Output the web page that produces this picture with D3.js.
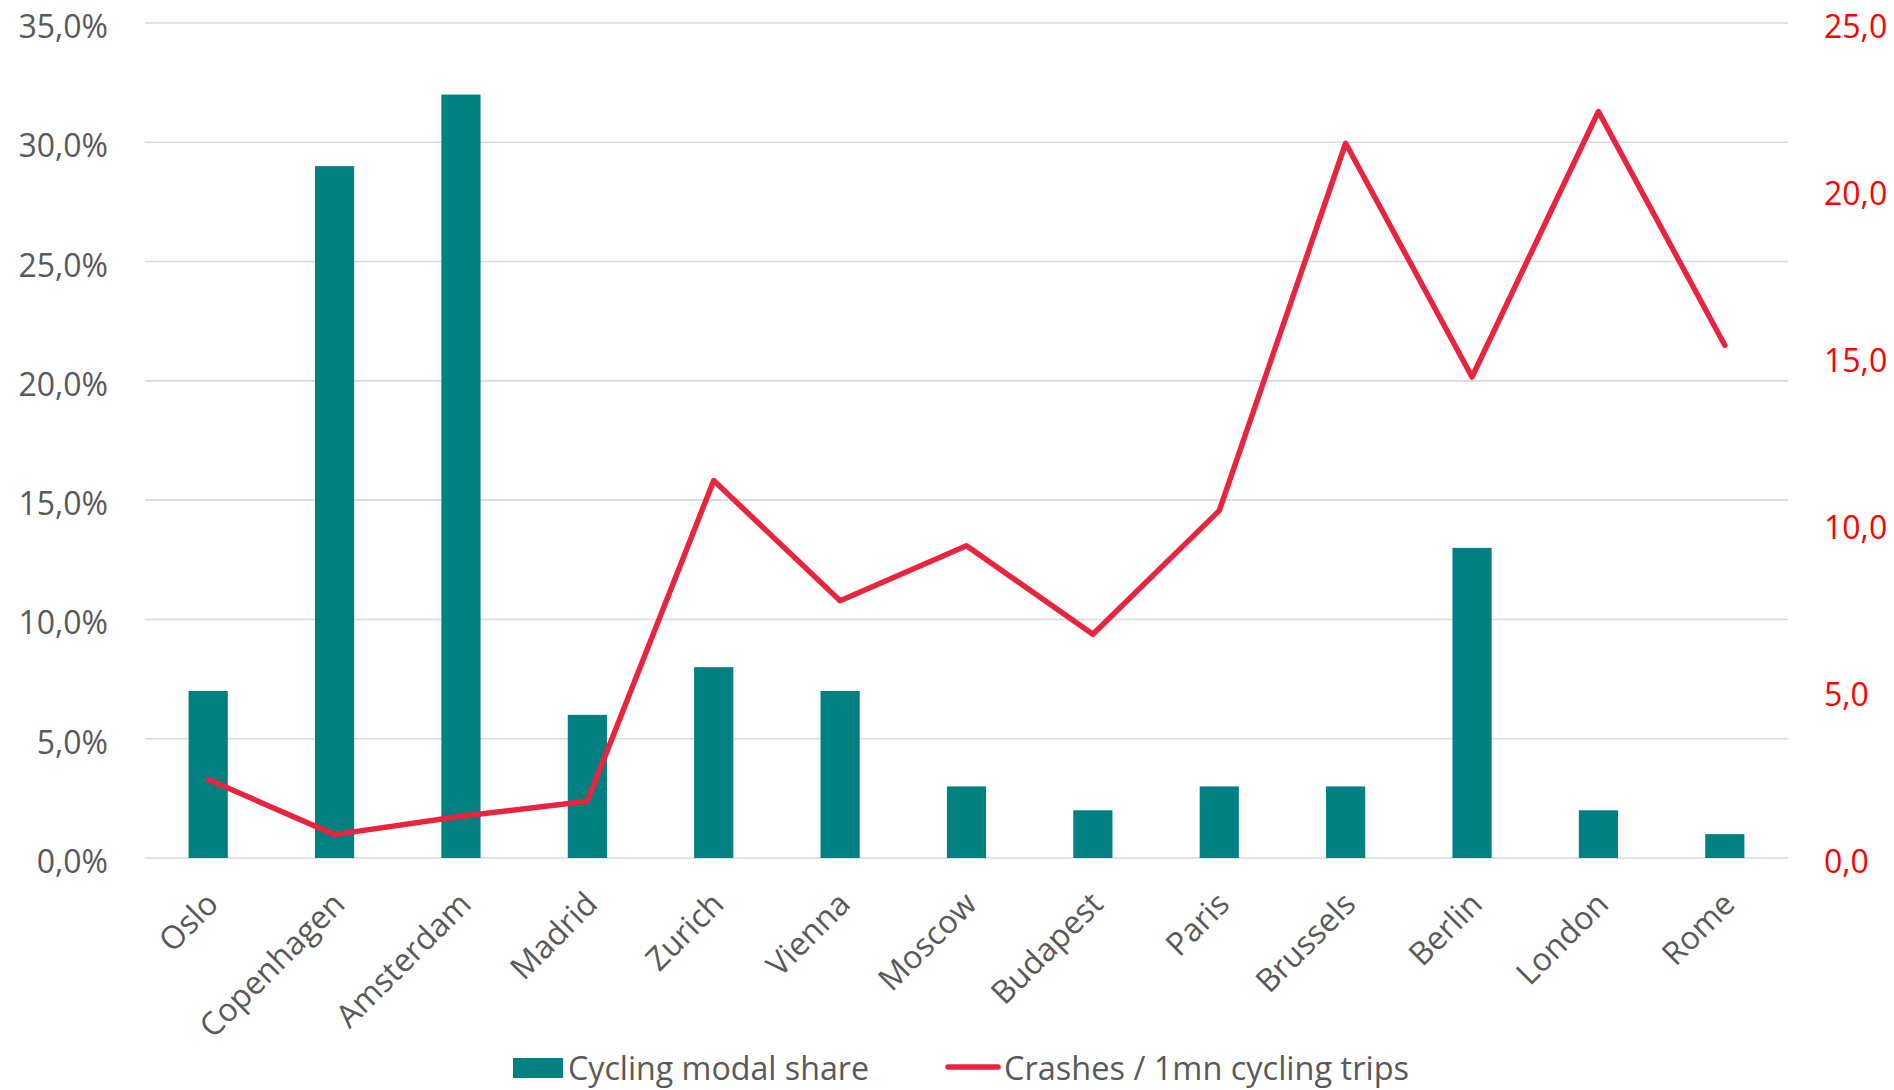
<!DOCTYPE html>
<html>
<head>
<meta charset="utf-8">
<script src="https://cdn.jsdelivr.net/npm/d3@7"></script>
<style>
  body { margin: 0; background: #fff; }
  #chart { width: 1894px; height: 1090px; }
  text { font-family: "Open Sans", sans-serif; }
</style>
</head>
<body>
<div id="chart"></div>
<script>
/*   DATA   */
const cities = ["Oslo","Copenhagen","Amsterdam","Madrid","Zurich","Vienna","Moscow","Budapest","Paris","Brussels","Berlin","London","Rome"];
const modalShare = [0.07,0.29,0.32,0.06,0.08,0.07,0.03,0.02,0.03,0.03,0.13,0.02,0.01];
const crashes = [2.35,0.7,1.25,1.7,11.3,7.7,9.35,6.7,10.4,21.4,14.4,22.35,15.35];
const leftTicks = [0,0.05,0.10,0.15,0.20,0.25,0.30,0.35];
const rightTicks = [0,5,10,15,20,25];
const seriesNames = ["Cycling modal share","Crashes / 1mn cycling trips"];

/*   CANVAS   */
const width = 1894, height = 1090;
const margin = {top: 23, left: 145, right: 106, bottom: 232};
const barColor = "#008080", lineColor = "#E9243F", textColor = "#595959";

const svg = d3.select("#chart")
    .append("svg")
    .attr("width", width)
    .attr("height", height);

const locale = d3.formatLocale({decimal: ",", thousands: ".", grouping: [3]});
const fmtPct = locale.format(".1%");
const fmtNum = locale.format(".1f");

/*   SCALES   */
const xScale = d3.scaleBand()
    .domain(cities)
    .range([margin.left, width - margin.right])
    .paddingInner(0.69)
    .paddingOuter(0.345);

const yLeft = d3.scaleLinear()
    .domain([0, 0.35])
    .range([height - margin.bottom, margin.top]);

const yRight = d3.scaleLinear()
    .domain([0, 25])
    .range([height - margin.bottom, margin.top]);

const cx = d => xScale(d) + xScale.bandwidth() / 2;

/*   GRID   */
svg.append("g")
    .selectAll("line")
    .data(leftTicks)
    .enter()
    .append("line")
        .attr("x1", margin.left)
        .attr("x2", width - margin.right)
        .attr("y1", d => yLeft(d))
        .attr("y2", d => yLeft(d))
        .attr("stroke", "#d9d9d9")
        .attr("stroke-width", 1.6);

/*   AXIS LABELS   */
svg.append("g")
    .selectAll("text")
    .data(leftTicks)
    .enter()
    .append("text")
        .attr("x", 108)
        .attr("y", d => yLeft(d) + 15)
        .attr("text-anchor", "end")
        .attr("font-size", 32)
        .attr("fill", textColor)
        .text(d => fmtPct(d));

svg.append("g")
    .selectAll("text")
    .data(rightTicks)
    .enter()
    .append("text")
        .attr("x", 1824)
        .attr("y", d => yRight(d) + 15)
        .attr("font-size", 32)
        .attr("fill", "#FF0000")
        .text(d => fmtNum(d));

svg.append("g")
    .selectAll("text")
    .data(cities)
    .enter()
    .append("text")
        .attr("transform", d => `translate(${cx(d) + 12},906) rotate(-45)`)
        .attr("text-anchor", "end")
        .attr("font-size", 32)
        .attr("fill", textColor)
        .text(d => d);

/*   BARS   */
svg.append("g")
    .selectAll("rect")
    .data(cities)
    .enter()
    .append("rect")
        .attr("x", d => xScale(d))
        .attr("width", xScale.bandwidth())
        .attr("y", (d, i) => yLeft(modalShare[i]))
        .attr("height", (d, i) => yLeft(0) - yLeft(modalShare[i]))
        .attr("fill", barColor);

/*   LINE   */
const line = d3.line()
    .x((d, i) => cx(cities[i]))
    .y(d => yRight(d));

svg.append("path")
    .datum(crashes)
    .attr("d", line)
    .attr("fill", "none")
    .attr("stroke", lineColor)
    .attr("stroke-width", 5.5)
    .attr("stroke-linejoin", "round")
    .attr("stroke-linecap", "round");

/*   LEGEND   */
const legend = svg.append("g");
legend.append("rect")
    .attr("x", 513).attr("y", 1058)
    .attr("width", 50).attr("height", 20)
    .attr("fill", barColor);
legend.append("text")
    .attr("x", 568).attr("y", 1080)
    .attr("font-size", 33)
    .attr("fill", textColor)
    .attr("textLength", 301)
    .attr("lengthAdjust", "spacingAndGlyphs")
    .text(seriesNames[0]);
legend.append("line")
    .attr("x1", 948).attr("x2", 998)
    .attr("y1", 1067).attr("y2", 1067)
    .attr("stroke", lineColor)
    .attr("stroke-width", 5.5)
    .attr("stroke-linecap", "round");
legend.append("text")
    .attr("x", 1004).attr("y", 1080)
    .attr("font-size", 33)
    .attr("fill", textColor)
    .attr("textLength", 405)
    .attr("lengthAdjust", "spacingAndGlyphs")
    .text(seriesNames[1]);
</script>
</body>
</html>
